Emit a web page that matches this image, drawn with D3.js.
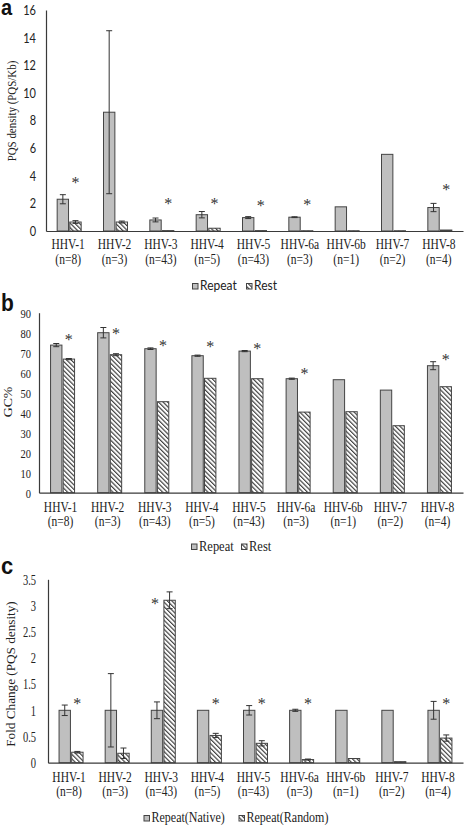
<!DOCTYPE html>
<html><head><meta charset="utf-8">
<script src="https://cdn.jsdelivr.net/npm/d3@7"></script>
<style>body{margin:0;background:#fff} svg{display:block}</style>
</head><body>
<script>
const categories = ["HHV-1","HHV-2","HHV-3","HHV-4","HHV-5","HHV-6a","HHV-6b","HHV-7","HHV-8"];
const sampleSizes = ["(n=8)","(n=3)","(n=43)","(n=5)","(n=43)","(n=3)","(n=1)","(n=2)","(n=4)"];

// Panel a: PQS density
const aSeries = ["Repeat","Rest"];
const aRepeat    = [2.3, 8.6, 0.8, 1.18, 0.97, 1.0, 1.75, 5.55, 1.7];
const aRepeatErr = [0.33, 5.9, 0.14, 0.23, 0.07, 0.03, 0, 0, 0.3];
const aRest      = [0.65, 0.65, 0.03, 0.2, 0.03, 0.02, 0.02, 0.02, 0.07];
const aRestErr   = [0.1, 0.07, 0, 0, 0, 0, 0, 0, 0];
const aStars     = [3.7, null, 2.17, 2.17, 2.0, 2.1, null, null, 3.2];
const aTicks     = [0, 2, 4, 6, 8, 10, 12, 14, 16];

// Panel b: GC%
const bSeries = ["Repeat","Rest"];
const bRepeat    = [73.8, 80, 72, 68.5, 70.8, 57, 56.5, 51.3, 63.5];
const bRepeatErr = [0.8, 2.6, 0.4, 0.3, 0.3, 0.3, 0, 0, 2];
const bRest      = [66.8, 69, 45.5, 57.2, 57, 40.3, 40.5, 33.5, 53];
const bRestErr   = [0.3, 0.5, 0, 0, 0, 0, 0, 0, 0];
const bStars     = [77.7, 81, 75, 74.2, 73.3, 61, null, null, 68];
const bTicks     = [0, 10, 20, 30, 40, 50, 60, 70, 80, 90];

// Panel c: Fold change
const cSeries = ["Repeat(Native)","Repeat(Random)"];
const cNative     = [1, 1, 1, 1, 1, 1, 1, 1, 1];
const cNativeErr  = [0.1, 0.7, 0.16, 0, 0.09, 0.02, 0, 0, 0.17];
const cRandom     = [0.2, 0.18, 3.1, 0.52, 0.37, 0.06, 0.08, 0.02, 0.47];
const cRandomErr  = [0.015, 0.1, 0.16, 0.04, 0.05, 0.01, 0, 0, 0.06];
const cStars      = [1.18, null, 3.09, 1.18, 1.18, 1.18, null, null, 1.18];
const cStarSlot   = [1, 1, 0, 1, 1, 1, 1, 1, 1];
const cTicks      = [0, 0.5, 1, 1.5, 2, 2.5, 3, 3.5];

const W = 472, H = 826;
const SERIF = "'Liberation Serif','Times New Roman',serif";
const SANS = "Lato,'Liberation Sans',Arial,sans-serif";
const AX = "#3a3a3a";
const svg = d3.select("body").append("svg").attr("width", W).attr("height", H);

const defs = svg.append("defs");
const pat = defs.append("pattern").attr("id","hatch").attr("patternUnits","userSpaceOnUse")
  .attr("width",3.2).attr("height",3.2).attr("patternTransform","rotate(-45)");
pat.append("rect").attr("width",3.2).attr("height",3.2).attr("fill","#fff");
pat.append("line").attr("x1",0.6).attr("y1",0).attr("x2",0.6).attr("y2",3.2)
  .attr("stroke","#333").attr("stroke-width",1.1);

const fills = ["#bfbfbf","url(#hatch)"];

function panel(cfg){
  const g = svg.append("g");
  const x = d3.scaleBand().domain(categories).range([cfg.left, cfg.right]).padding(0);
  const y = d3.scaleLinear().domain([0, cfg.max]).range([cfg.y0, cfg.yTop]);
  const bw = x.bandwidth();
  const x1 = d3.scaleBand().domain([0,1]).range([bw/2 - 12, bw/2 + 12]).paddingInner(0.1);

  // y axis
  const ya = g.append("g").attr("transform", `translate(${cfg.left},0)`)
    .call(d3.axisLeft(y).tickValues(cfg.ticks).tickSize(0).tickPadding(cfg.tickPad).tickFormat(d3.format("")));
  ya.select(".domain").attr("stroke", AX).attr("stroke-width",1.2);
  ya.selectAll("text").attr("font-family", cfg.tickFont).attr("font-size", cfg.tickSize)
    .attr("fill","#222").attr("transform", `scale(1,${cfg.tickSY})`).attr("dy","0.35em");

  // bars
  cfg.series.forEach((vals, si) => {
    g.append("g").selectAll("rect").data(vals).join("rect")
      .attr("x", (d,i) => x(categories[i]) + x1(si))
      .attr("y", d => y(d))
      .attr("width", x1.bandwidth())
      .attr("height", d => y(0) - y(d))
      .attr("fill", fills[si]).attr("stroke","#444").attr("stroke-width",1);
    const errs = cfg.errs[si];
    const eg = g.append("g").attr("stroke","#333").attr("stroke-width",1);
    vals.forEach((v,i) => {
      const e = errs[i]; if (!e) return;
      const cx = x(categories[i]) + x1(si) + x1.bandwidth()/2;
      eg.append("line").attr("x1",cx).attr("x2",cx).attr("y1",y(v+e)).attr("y2",y(Math.max(0,v-e)));
      eg.append("line").attr("x1",cx-3).attr("x2",cx+3).attr("y1",y(v+e)).attr("y2",y(v+e));
      eg.append("line").attr("x1",cx-3).attr("x2",cx+3).attr("y1",y(Math.max(0,v-e))).attr("y2",y(Math.max(0,v-e)));
    });
  });

  // x axis
  const xa = g.append("g").attr("transform", `translate(0,${cfg.y0})`)
    .call(d3.axisBottom(x).tickSize(0).tickSizeOuter(0).tickFormat(""));
  xa.select(".domain").attr("stroke", AX).attr("stroke-width",1.2);
  categories.forEach((c,i) => {
    const cx = x(c) + bw/2 + cfg.labelShift;
    [c, sampleSizes[i]].forEach((t,li) => {
      g.append("text").attr("transform", `translate(${cx},${cfg.y0 + cfg.lab1 + li*cfg.labGap}) scale(1,${cfg.labSY})`)
        .attr("text-anchor","middle").attr("font-family", SERIF).attr("font-size", cfg.labSize)
        .attr("fill","#222").text(t);
    });
  });

  // significance stars
  cfg.stars.forEach((s,i) => {
    if (s == null) return;
    const slot = cfg.starSlot ? cfg.starSlot[i] : 1;
    const cx = x(categories[i]) + x1(slot) + x1.bandwidth()/2 + (slot === 0 ? -2 : 0);
    g.append("text").attr("x", cx).attr("y", y(s) + 8).attr("text-anchor","middle")
      .attr("font-family", SERIF).attr("font-size", 16).attr("fill","#333").text("*");
  });

  // y title
  g.append("text").attr("transform", `translate(${cfg.titleX},${cfg.titleY}) rotate(-90) scale(${cfg.titleSX},1)`)
    .attr("text-anchor","middle").attr("font-family", SERIF).attr("font-size", cfg.titleSize)
    .attr("fill","#222").text(cfg.title);

  // legend
  const lg = g.append("g");
  cfg.legend.forEach((l, li) => {
    lg.append("rect").attr("x", l.x).attr("y", cfg.legY - 2.5).attr("width",5.5).attr("height",5.5)
      .attr("fill", fills[li]).attr("stroke","#444").attr("stroke-width",1);
    lg.append("text").attr("transform", `translate(${l.x + 7.5},${cfg.legY + cfg.legSize*0.36}) scale(1,${cfg.legSY})`)
      .attr("font-family", cfg.legFont).attr("font-size", cfg.legSize).attr("fill","#222").text(l.t);
  });

  // panel letter
  svg.append("text").attr("transform", `translate(1,${cfg.letterY}) scale(1,1.1)`)
    .attr("font-family","'Liberation Sans',Arial,sans-serif").attr("font-weight","bold")
    .attr("font-size", cfg.letterSize).attr("fill","#111").text(cfg.letter);
}

panel({
  letter:"a", letterY:14.5, letterSize:20,
  left:46, right:463, y0:231, yTop:10, max:16, ticks:aTicks,
  tickPad:10, tickFont:SANS, tickSize:11, tickSY:1.15,
  series:[aRepeat, aRest], errs:[aRepeatErr, aRestErr], stars:aStars,
  lab1:18, labGap:14.5, labSize:11.5, labSY:1.18, labelShift:-1,
  title:"PQS density (PQS/Kb)", titleX:15.5, titleY:111, titleSize:11.5, titleSX:0.95,
  legY:286, legFont:SANS, legSize:12, legSY:1.1,
  legend:[{x:192.5, t:aSeries[0]}, {x:246.5, t:aSeries[1]}]
});

panel({
  letter:"b", letterY:311, letterSize:21,
  left:39, right:463, y0:492.7, yTop:312.7, max:90, ticks:bTicks,
  tickPad:8, tickFont:SERIF, tickSize:10.5, tickSY:1.25,
  series:[bRepeat, bRest], errs:[bRepeatErr, bRestErr], stars:bStars,
  lab1:19.5, labGap:13.8, labSize:11.5, labSY:1.18, labelShift:-2,
  title:"GC%", titleX:12, titleY:402, titleSize:11.5, titleSX:1.2,
  legY:546.5, legFont:SERIF, legSize:12.5, legSY:1.2,
  legend:[{x:191.5, t:bSeries[0]}, {x:241.5, t:bSeries[1]}]
});

panel({
  letter:"c", letterY:574, letterSize:22,
  left:48, right:463, y0:762.7, yTop:579.3, max:3.5, ticks:cTicks,
  tickPad:12, tickFont:SERIF, tickSize:10.5, tickSY:1.3,
  series:[cNative, cRandom], errs:[cNativeErr, cRandomErr], stars:cStars, starSlot:cStarSlot,
  lab1:19.5, labGap:13.5, labSize:11.5, labSY:1.18, labelShift:-2,
  title:"Fold Change (PQS density)", titleX:15, titleY:674, titleSize:12, titleSX:1.1,
  legY:818, legFont:SERIF, legSize:12, legSY:1.2,
  legend:[{x:144, t:cSeries[0]}, {x:239, t:cSeries[1]}]
});
</script>
</body></html>
